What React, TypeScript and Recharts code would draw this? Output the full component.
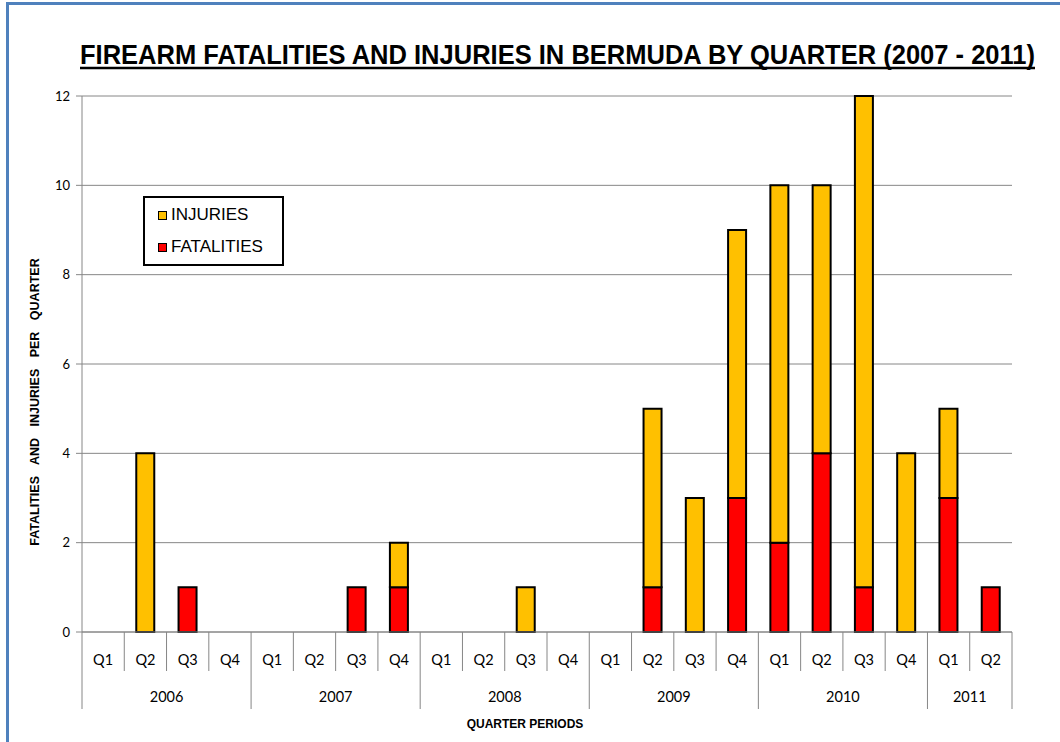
import {Bar, BarChart, CartesianGrid, Legend, XAxis, YAxis} from "recharts";

const quarterLabels = [
    "Q1", "Q2", "Q3", "Q4",
    "Q1", "Q2", "Q3", "Q4",
    "Q1", "Q2", "Q3", "Q4",
    "Q1", "Q2", "Q3", "Q4",
    "Q1", "Q2", "Q3", "Q4",
    "Q1", "Q2",
];
const yearLabels = ["2006", "2007", "2008", "2009", "2010", "2011"];
const quartersInYear = [4, 4, 4, 4, 4, 2];
const fatalities = [0, 0, 1, 0, 0, 0, 1, 1, 0, 0, 0, 0, 0, 1, 0, 3, 2, 4, 1, 0, 3, 1];
const injuries = [0, 4, 0, 0, 0, 0, 0, 1, 0, 0, 1, 0, 0, 4, 3, 6, 8, 6, 11, 4, 2, 0];
const yTicks = [0, 2, 4, 6, 8, 10, 12];

const W = 1060;
const H = 742;
const margin = {top: 96, right: 48, bottom: 0, left: 0};
const Y_AXIS_W = 82;
const X_AXIS_H = 110;
const PLOT_W = W - margin.left - margin.right - Y_AXIS_W;

// one row per quarter, tagged with its year and how many quarters that year shows
const yearOf: string[] = [];
const spanOf: number[] = [];
yearLabels.forEach((yr, k) => {
    for (let j = 0; j < quartersInYear[k]; j++) {
        yearOf.push(yr);
        spanOf.push(quartersInYear[k]);
    }
});
const data = quarterLabels.map((q, i) => ({
    key: `${yearOf[i]}-${q}`,
    quarter: q,
    year: yearOf[i],
    span: spanOf[i],
    fatalities: fatalities[i],
    injuries: injuries[i],
}));

const bandWidth = PLOT_W / data.length;
const gridGray = "#868686";
const tickFont = "Lato, 'Open Sans', sans-serif";
const arial = "'Liberation Sans', Arial, sans-serif";

// title is squeezed horizontally to look like Arial Narrow
const TITLE_SCALE = 0.78;
const TITLE_W = 955;

const XTick = (props: any) => {
    const {x, y, payload} = props;
    const i = payload.index ?? props.index;
    const d = data[i];
    const left = x - bandWidth / 2;
    const right = x + bandWidth / 2;
    const startYear = i === 0 || data[i - 1].year !== d.year;
    const last = i === data.length - 1;
    return (
        <g>
            <line x1={left} x2={left} y1={y} y2={y + (startYear ? 77 : 39)} stroke={gridGray}/>
            {last && <line x1={right} x2={right} y1={y} y2={y + 77} stroke={gridGray}/>}
            <text x={x} y={y + 33} textAnchor="middle" fontFamily={tickFont} fontSize={14.5} fill="#000">
                {d.quarter}
            </text>
            {startYear && (
                <text x={left + (d.span * bandWidth) / 2} y={y + 70} textAnchor="middle"
                      fontFamily={tickFont} fontSize={14.5} fill="#000">
                    {d.year}
                </text>
            )}
        </g>
    );
};

const legendItems = [
    {name: "INJURIES", color: "#FFC000"},
    {name: "FATALITIES", color: "#FF0000"},
];

const LegendBox = () => (
    <div style={{paddingLeft: 13, fontFamily: arial, fontSize: 17, color: "#000"}}>
        {legendItems.map((item) => (
            <div key={item.name} style={{height: 32, display: "flex", alignItems: "center"}}>
                <span style={{
                    display: "inline-block",
                    width: 7,
                    height: 7,
                    border: "1.5px solid #000",
                    background: item.color,
                    marginRight: 4,
                }}/>
                {item.name}
            </div>
        ))}
    </div>
);

const App = () => {
    return (
        <div style={{position: "absolute", left: 0, top: 0, width: W, height: H, overflow: "hidden", background: "#fff"}}>
            <div style={{
                position: "absolute",
                left: 6,
                top: 2,
                width: W + 40,
                height: H + 40,
                border: "3px solid #4F81BD",
            }}/>
            <div style={{position: "absolute", left: 0, top: 0}}>
                <BarChart width={W} height={H} data={data} margin={margin} barSize={18}>
                    <CartesianGrid horizontal={true} vertical={false} stroke={gridGray}/>
                    <XAxis
                        dataKey="key"
                        height={X_AXIS_H}
                        interval={0}
                        tickSize={0}
                        tickMargin={0}
                        tickLine={false}
                        axisLine={{stroke: gridGray}}
                        tick={<XTick/>}
                        label={{
                            value: "QUARTER PERIODS",
                            position: "insideBottom",
                            offset: 14,
                            dx: -22,
                            style: {
                                fontFamily: arial,
                                fontWeight: "bold",
                                fontSize: 12,
                                fill: "#000",
                            },
                        }}
                    />
                    <YAxis
                        width={Y_AXIS_W}
                        domain={[0, 12]}
                        ticks={yTicks}
                        interval={0}
                        tickSize={6}
                        tickMargin={6}
                        axisLine={{stroke: gridGray}}
                        tickLine={{stroke: gridGray}}
                        tick={{fontFamily: tickFont, fontSize: 13, fill: "#000"}}
                        label={{
                            content: ({viewBox}: any) => {
                                const cx = viewBox.x + 35;
                                const cy = viewBox.y + 306;
                                return (
                                    <text x={cx} y={cy} transform={`rotate(-90 ${cx} ${cy})`}
                                          textAnchor="middle" dominantBaseline="central"
                                          fontFamily={arial} fontWeight="bold" fontSize={12.5}
                                          fill="#000" style={{wordSpacing: 8}}>
                                        FATALITIES AND INJURIES PER QUARTER
                                    </text>
                                );
                            },
                        }}
                    />
                    <Legend
                        layout="vertical"
                        align="center"
                        verticalAlign="middle"
                        content={<LegendBox/>}
                        wrapperStyle={{
                            left: 143,
                            top: 196,
                            width: 141,
                            height: 70,
                            border: "2px solid #000",
                            background: "#fff",
                            boxSizing: "border-box",
                            paddingTop: 1,
                        }}
                    />
                    <Bar dataKey="fatalities" name="FATALITIES" stackId="a" fill="#FF0000"
                         stroke="#000" strokeWidth={2} isAnimationActive={false}/>
                    <Bar dataKey="injuries" name="INJURIES" stackId="a" fill="#FFC000"
                         stroke="#000" strokeWidth={2} isAnimationActive={false}/>
                </BarChart>
            </div>
            <svg width={W} height={80} style={{position: "absolute", left: 0, top: 0, pointerEvents: "none"}}>
                <text x={0} y={0} transform={`translate(80 64) scale(${TITLE_SCALE} 1)`}
                      textLength={TITLE_W / TITLE_SCALE} lengthAdjust="spacingAndGlyphs"
                      fontFamily="'Liberation Sans Narrow', 'Arial Narrow', 'Liberation Sans', sans-serif"
                      fontWeight="bold" fontSize={27} fill="#000">
                    FIREARM FATALITIES AND INJURIES IN BERMUDA BY QUARTER (2007 - 2011)
                </text>
                <line x1={80} x2={80 + TITLE_W} y1={68} y2={68} stroke="#000" strokeWidth={2.5}/>
            </svg>
        </div>
    );
};

export default App;
